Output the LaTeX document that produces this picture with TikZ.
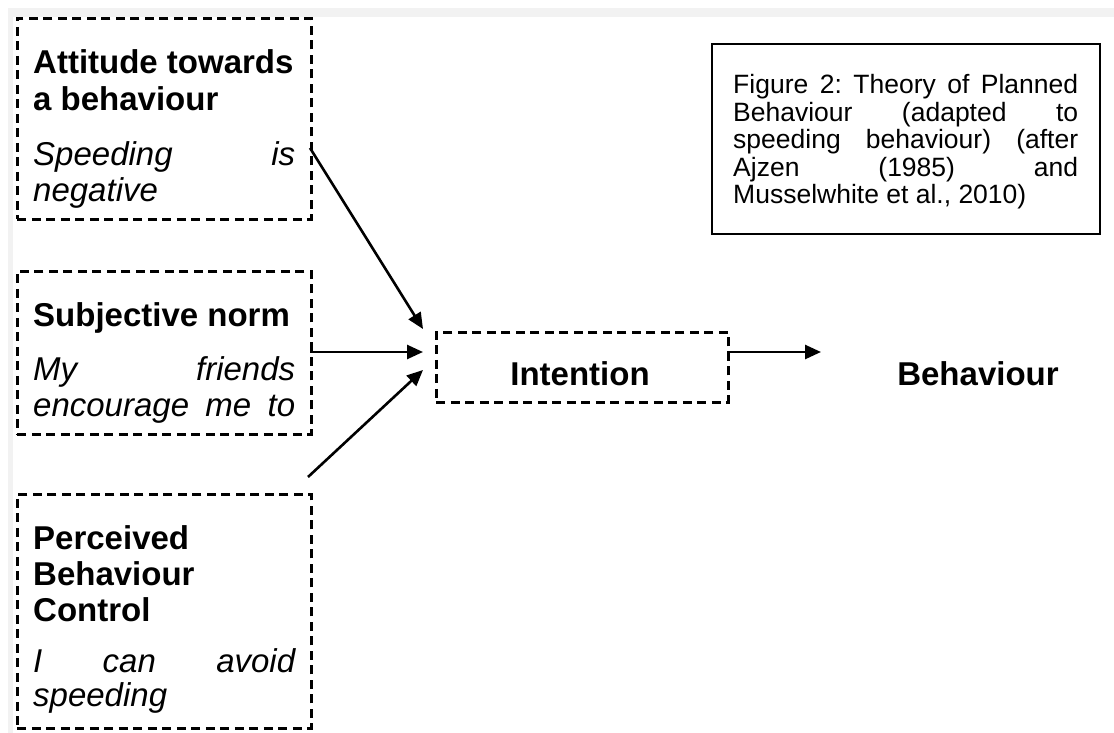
\documentclass[tikz,border=0pt]{standalone}
\usepackage{fontspec}
\setmainfont{Liberation Sans}
\usetikzlibrary{arrows.meta}
\begin{document}
\begin{tikzpicture}[x=1pt,y=-1pt,
  dbox/.style={draw, line width=2.8pt, dash pattern=on 9pt off 5.5pt, inner sep=0pt, anchor=north west},
  capbox/.style={draw, line width=1.8pt, inner sep=0pt, anchor=north west},
  conn/.style={line width=2.6pt, -{Triangle[length=16pt,width=14pt]}},
  bl/.style={anchor=base west, inner sep=0pt, font=\fontsize{33}{36}\selectfont\bfseries},
  il/.style={anchor=base west, inner sep=0pt, font=\fontsize{33}{36}\selectfont\itshape},
  bc/.style={anchor=base, inner sep=0pt, font=\fontsize{33}{36}\selectfont\bfseries},
  cl/.style={anchor=base west, inner sep=0pt, font=\fontsize{26.5}{27.5}\selectfont}]
\useasboundingbox (0,0) rectangle (1114,733);
\fill[white] (0,0) rectangle (1114,733);
% light grey page edges
\fill[gray!10] (8,8) rectangle (1114,17);
\fill[gray!10] (8,8) rectangle (13,733);

% boxes
\node[dbox, minimum width=294pt, minimum height=201pt] (att) at (16,17) {};
\node[dbox, minimum width=294pt, minimum height=163pt] (sub) at (16,270) {};
\node[dbox, minimum width=294pt, minimum height=234pt] (pbc) at (16,493) {};
\node[dbox, minimum width=292pt, minimum height=70pt] (int) at (435,331) {};
\node[capbox, minimum width=388pt, minimum height=190pt] (cap) at (711,43) {};

% box 1 text
\node[bl] (a1) at (33,74) {Attitude towards};
\node[bl] (a2) at (33,111) {a behaviour};
\node[il] (a3) at (33,166) {\hbox to 262pt{Speeding\hfill is}};
\node[il] (a4) at (33,201) {negative};
% box 2 text
\node[bl] (s1) at (33,326) {Subjective norm};
\node[il] (s2) at (33,380) {\hbox to 262pt{My\hfill friends}};
\node[il] (s3) at (33,416) {\hbox to 262pt{encourage\hfill me\hfill to}};
% box 3 text
\node[bl] (p1) at (33,549) {Perceived};
\node[bl] (p2) at (33,585) {Behaviour};
\node[bl] (p3) at (33,621) {Control};
\node[il] (p4) at (33,672) {\hbox to 262pt{I\hfill can\hfill avoid}};
\node[il] (p5) at (33,706) {speeding};

% centre labels
\node[bc] (intT) at (580,385) {Intention};
\node[bc] (beh) at (978,385) {Behaviour};

% caption text
\node[cl] (c1) at (733,94) {\hbox to 345pt{Figure\hfill 2:\hfill Theory\hfill of\hfill Planned}};
\node[cl] (c2) at (733,121.5) {\hbox to 345pt{Behaviour\hfill (adapted\hfill to}};
\node[cl] (c3) at (733,149) {\hbox to 345pt{speeding\hfill behaviour)\hfill (after}};
\node[cl] (c4) at (733,176.5) {\hbox to 345pt{Ajzen\hfill (1985)\hfill and}};
\node[cl] (c5) at (733,204) {Musselwhite et al., 2010)};

% connector end points
\coordinate (o1) at (310,148);
\coordinate (o2) at (310,352);
\coordinate (o3) at (308,477);
\coordinate (i1) at (423,329);
\coordinate (i2) at (423,352);
\coordinate (i3) at (423,370);
\coordinate (o4) at (727,352);
\coordinate (i4) at (821,352);

\draw[conn] (o1) -- (i1);
\draw[conn] (o2) -- (i2);
\draw[conn] (o3) -- (i3);
\draw[conn] (o4) -- (i4);
\end{tikzpicture}
\end{document}
